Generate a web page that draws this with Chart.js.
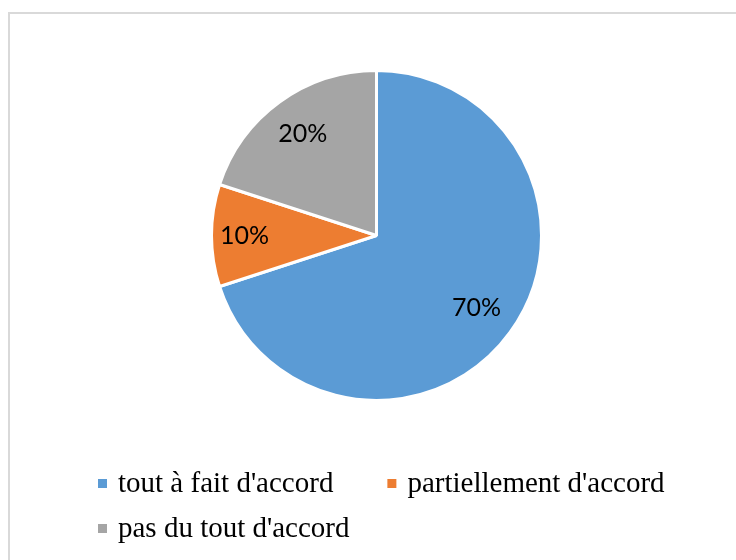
<!DOCTYPE html>
<html lang="fr">
<head>
  <meta charset="UTF-8">
  <title>Accord</title>
  <script src="https://cdn.jsdelivr.net/npm/chart.js"></script>
  <style>
    html, body { margin: 0; padding: 0; background: #fff; }
    #frame {
      position: absolute; left: 8px; top: 12px; width: 740px; height: 560px;
      border-left: 2px solid #d9d9d9; border-top: 2px solid #d9d9d9;
    }
    #wrap { position: absolute; left: 0; top: 0; width: 736px; height: 560px; }
  </style>
</head>
<body>
  <div id="frame"></div>
  <div id="wrap"><canvas id="pieChart" width="736" height="560"></canvas></div>

  <script>
    // values
    const categories = ["tout à fait d'accord", "partiellement d'accord", "pas du tout d'accord"];
    const shares = [70, 10, 20];
    const sliceColors = ['#5B9BD5', '#ED7D31', '#A5A5A5'];

    // how far out (fraction of radius) each percentage sits
    const labelRadius = [0.75, 0.8, 0.76];

    // percentage labels inside the slices
    const sliceLabels = {
      id: 'sliceLabels',
      afterDatasetsDraw(chart) {
        const ctx = chart.ctx;
        const meta = chart.getDatasetMeta(0);
        ctx.save();
        ctx.font = '25px Lato';
        ctx.fillStyle = '#000';
        ctx.textAlign = 'center';
        ctx.textBaseline = 'middle';
        meta.data.forEach((arc, i) => {
          const mid = (arc.startAngle + arc.endAngle) / 2;
          const r = arc.outerRadius * labelRadius[i];
          ctx.fillText(shares[i] + '%', arc.x + Math.cos(mid) * r, arc.y + Math.sin(mid) * r);
        });
        ctx.restore();
      }
    };

    // legend like the office one: small squares, wide gaps, left aligned rows
    const officeLegend = {
      id: 'officeLegend',
      afterDraw(chart) {
        const ctx = chart.ctx;
        const colors = chart.data.datasets[0].backgroundColor;
        const left = 98, right = 700, box = 9, textGap = 11, itemGap = 54, rowH = 45;
        let x = left, y = 483.5;
        ctx.save();
        ctx.font = '29px "Liberation Serif"';
        ctx.textBaseline = 'middle';
        chart.data.labels.forEach((label, i) => {
          const w = box + textGap + ctx.measureText(label).width;
          if (x > left && x + w > right) {
            x = left;
            y += rowH;
          }
          ctx.fillStyle = colors[i];
          ctx.fillRect(x, y - box / 2, box, box);
          ctx.fillStyle = '#000';
          ctx.fillText(label, x + box + textGap, y + 1);
          x += w + itemGap;
        });
        ctx.restore();
      }
    };

    const ctx = document.getElementById('pieChart').getContext('2d');
    new Chart(ctx, {
      type: 'pie',
      data: {
        labels: categories,
        datasets: [{
          data: shares,
          backgroundColor: sliceColors,
          borderColor: '#ffffff',
          borderWidth: 3
        }]
      },
      options: {
        responsive: false,
        animation: false,
        radius: 165,
        layout: {
          padding: { top: 60, bottom: 149, left: 17, right: 0 }
        },
        plugins: {
          legend: { display: false },
          tooltip: { enabled: false }
        }
      },
      plugins: [sliceLabels, officeLegend]
    });
  </script>
</body>
</html>
